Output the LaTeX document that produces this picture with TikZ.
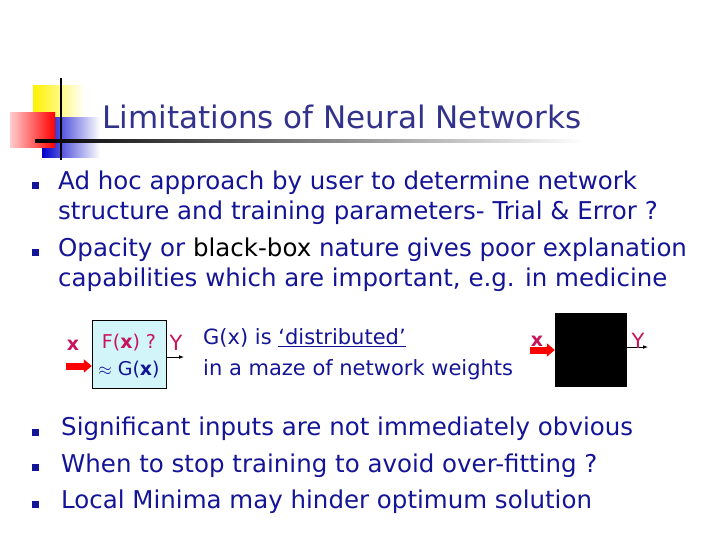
\documentclass[tikz,border=0pt]{standalone}
\usepackage{fontspec}
\usetikzlibrary{arrows.meta}
\setmainfont{DejaVu Sans}
\definecolor{navy}{RGB}{20,20,150}
\definecolor{ttl}{RGB}{50,50,140}
\definecolor{mag}{RGB}{200,20,90}
\definecolor{lcyan}{RGB}{210,245,250}
\begin{document}
\begin{tikzpicture}[x=1pt,y=-1pt,
  body/.style={anchor=west,inner sep=0,text=navy,font=\fontsize{24.5}{29}\selectfont},
  small/.style={inner sep=0,font=\fontsize{21}{25}\selectfont},
  bul/.style={fill=navy,minimum size=7pt,inner sep=0},
  redarrow/.style={red,line width=7pt,-{Triangle[length=8pt,width=13pt]}}]
\useasboundingbox (0,0) rectangle (720,540);
% logo
\shade[left color=yellow!90!orange,right color=white] (33,86) rectangle (85,120);
\shade[left color=blue!80!black,right color=white] (42,118) rectangle (100,158);
\shade[left color=red!20,right color=red] (10,113) rectangle (55,148);
\draw[line width=1.8pt] (61,78) -- (61,160);
\shade[left color=black,right color=white] (35,140) rectangle (585,142.5);
\node[inner sep=0,text=ttl,font=\fontsize{31}{35}\selectfont] (title) at (342,117) {Limitations of Neural Networks};
% bullets
\node[bul] (b1) at (35,186) {};
\node[bul] (b2) at (35,252) {};
\node[bul] (b3) at (35,432) {};
\node[bul] (b4) at (35,467) {};
\node[bul] (b5) at (35,504) {};
\node[body] (t1) at (58,183) {Ad hoc approach by user to determine network};
\node[body] (t1b) at (58,213) {structure and training parameters- Trial \& Error ?};
\node[body] (t2) at (58,250) {Opacity or \textcolor{black}{black-box} nature gives poor explanation};
\node[body] (t2b) at (58,280) {capabilities which are important, e.g. in medicine};
\node[body] (t3) at (61,429) {Significant inputs are not immediately obvious};
\node[body] (t4) at (61,466) {When to stop training to avoid over-fitting ?};
\node[body] (t5) at (61,502) {Local Minima may hinder optimum solution};
% left box
\node[draw,fill=lcyan,minimum width=74pt,minimum height=68pt,inner sep=0] (fb) at (129,354) {};
\node[small,text=mag,font=\fontsize{19}{23}\selectfont] (fx) at (129,343) {F(\textbf{x}) ?};
\node[small,text=navy,font=\fontsize{19}{23}\selectfont] (gx) at (129,370) {\(\approx\) G(\textbf{x})};
\coordinate (ain) at (66,366);
\draw[redarrow] (ain) -- (fb.west|-ain);
\node[small,text=mag,font=\bfseries\fontsize{19}{23}\selectfont] (xl) at (73,345) {x};
\coordinate (aout) at (184,357);
\draw[-{Latex[length=5pt]},thick] (fb.east|-aout) -- (aout);
\node[small,text=mag] (yl) at (176,343) {Y};
% middle text
\node[small,anchor=west,text=navy] (g1) at (203,338) {G(x) is \underline{‘distributed’}};
\node[small,anchor=west,text=navy] (g2) at (203,370) {in a maze of network weights};
% black box
\node[fill=black,minimum width=72pt,minimum height=74pt,inner sep=0] (bb) at (591,350) {};
\coordinate (bin) at (530,350);
\draw[redarrow] (bin) -- (bb.west|-bin);
\node[small,text=mag,font=\bfseries\fontsize{19}{23}\selectfont] (xl2) at (537,341) {x};
\coordinate (bout) at (648,347);
\draw[-{Latex[length=5pt]},thick] (bb.east|-bout) -- (bout);
\node[small,text=mag] (yl2) at (638,341) {Y};
\end{tikzpicture}
\end{document}
